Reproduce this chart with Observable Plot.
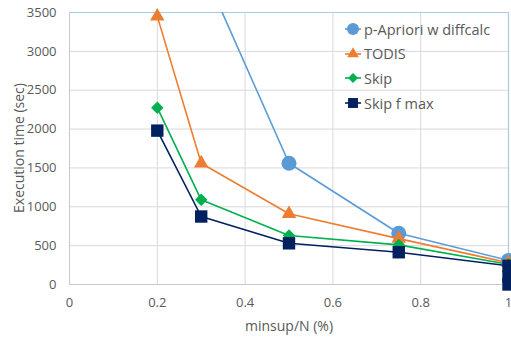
<!DOCTYPE html>
<html>
<head>
<meta charset="utf-8">
<script src="https://cdn.jsdelivr.net/npm/d3@7"></script>
<script src="https://cdn.jsdelivr.net/npm/@observablehq/plot@0.6"></script>
<style>
  body { margin: 0; background: #fff; }
  #wrap { position: relative; width: 511px; height: 338px; font-family: "Open Sans", sans-serif; color: #595959; }
  #legend { position: absolute; left: 344px; top: 17px; font-size: 14.5px; }
  #legend .row { display: flex; align-items: center; height: 24.6px; white-space: nowrap; }
  #legend svg { margin-right: 2px; }
  .axlabel { position: absolute; font-size: 14px; white-space: nowrap; }
  #xlabel { left: 289px; top: 325px; transform: translate(-50%, -50%); }
  #ylabel { left: 18px; top: 148px; transform: translate(-50%, -50%) rotate(-90deg); }
</style>
</head>
<body>
<div id="wrap"></div>
<script>
const seriesNames = ["p-Apriori w diffcalc", "TODIS", "Skip", "Skip f max"];
const seriesColors = ["#5B9BD5", "#ED7D31", "#00B050", "#002060"];
const seriesSymbols = ["circle", "triangle", "diamond2", "square"];
const seriesR = [7.5, 5.4, 5.6, 7];

const pAprioriX = [0.3, 0.5, 0.75, 1];
const pAprioriY = [4110, 1560, 660, 310];
const todisX = [0.2, 0.3, 0.5, 0.75, 1];
const todisY = [3450, 1560, 910, 590, 280];
const skipX = [0.2, 0.3, 0.5, 0.75, 1, 1];
const skipY = [2275, 1090, 630, 510, 260, 60];
const skipFmaxX = [0.2, 0.3, 0.5, 0.75, 1, 1, 1];
const skipFmaxY = [1980, 875, 530, 415, 240, 100, 0];

const xTicks = [0, 0.2, 0.4, 0.6, 0.8, 1];
const yTicks = [0, 500, 1000, 1500, 2000, 2500, 3000, 3500];
const xLabel = "minsup/N (%)";
const yLabel = "Execution time (sec)";

const allX = [pAprioriX, todisX, skipX, skipFmaxX];
const allY = [pAprioriY, todisY, skipY, skipFmaxY];
const data = seriesNames.map((name, i) => allX[i].map((x, j) => ({series: name, x, y: allY[i][j]})));

const marks = [
  Plot.gridX(xTicks.filter(d => d > 0 && d < 1), {stroke: "#d9d9d9", strokeOpacity: 1}),
  Plot.gridY(yTicks.filter(d => d > 0 && d < 3500), {stroke: "#d9d9d9", strokeOpacity: 1}),
  Plot.ruleY([3500], {stroke: "#a9cbea", strokeWidth: 1.2}),
  Plot.ruleX([1], {stroke: "#a9cbea", strokeWidth: 1.2}),
  Plot.ruleX([0], {stroke: "#c8c8c8"}),
  Plot.ruleY([0], {stroke: "#c8c8c8"}),
  Plot.axisX({ticks: xTicks, tickFormat: d => String(d), tickSize: 0, tickPadding: 13, label: null, fill: "#595959"}),
  Plot.axisY({ticks: yTicks, tickFormat: d => String(d), tickSize: 0, tickPadding: 13, label: null, fill: "#595959"})
];
data.forEach((d, i) => {
  marks.push(Plot.line(d, {x: "x", y: "y", stroke: seriesColors[i], strokeWidth: 1.6, clip: true}));
  marks.push(Plot.dot(d.filter(p => p.y <= 3500), {x: "x", y: "y", symbol: () => seriesSymbols[i], fill: seriesColors[i], r: seriesR[i], stroke: "none"}));
});

const chart = Plot.plot({
  width: 511,
  height: 338,
  marginLeft: 69,
  marginRight: 3,
  marginTop: 12,
  marginBottom: 54,
  x: {domain: [0, 1]},
  y: {domain: [0, 3500]},
  symbol: {type: "identity"},
  style: {fontFamily: "Open Sans, sans-serif", fontSize: "13px", color: "#595959", background: "#fff"},
  marks
});
const wrap = document.getElementById("wrap");
wrap.appendChild(chart);

const xl = document.createElement("div");
xl.className = "axlabel"; xl.id = "xlabel"; xl.textContent = xLabel;
wrap.appendChild(xl);
const yl = document.createElement("div");
yl.className = "axlabel"; yl.id = "ylabel"; yl.textContent = yLabel;
wrap.appendChild(yl);

// legend
const legend = document.createElement("div");
legend.id = "legend";
const symMap = {circle: d3.symbolCircle, triangle: d3.symbolTriangle, diamond2: d3.symbolDiamond2, square: d3.symbolSquare};
seriesNames.forEach((name, i) => {
  const row = document.createElement("div");
  row.className = "row";
  const svg = d3.create("svg").attr("width", 18).attr("height", 16);
  svg.append("line").attr("x1", 1).attr("x2", 17).attr("y1", 8).attr("y2", 8).attr("stroke", seriesColors[i]).attr("stroke-width", 1.6);
  const rr = seriesR[i] * 0.8;
  svg.append("path").attr("transform", "translate(9,8)").attr("d", d3.symbol(symMap[seriesSymbols[i]], Math.PI * rr * rr)()).attr("fill", seriesColors[i]);
  row.appendChild(svg.node());
  const span = document.createElement("span");
  span.textContent = name;
  row.appendChild(span);
  legend.appendChild(row);
});
wrap.appendChild(legend);
</script>
</body>
</html>
